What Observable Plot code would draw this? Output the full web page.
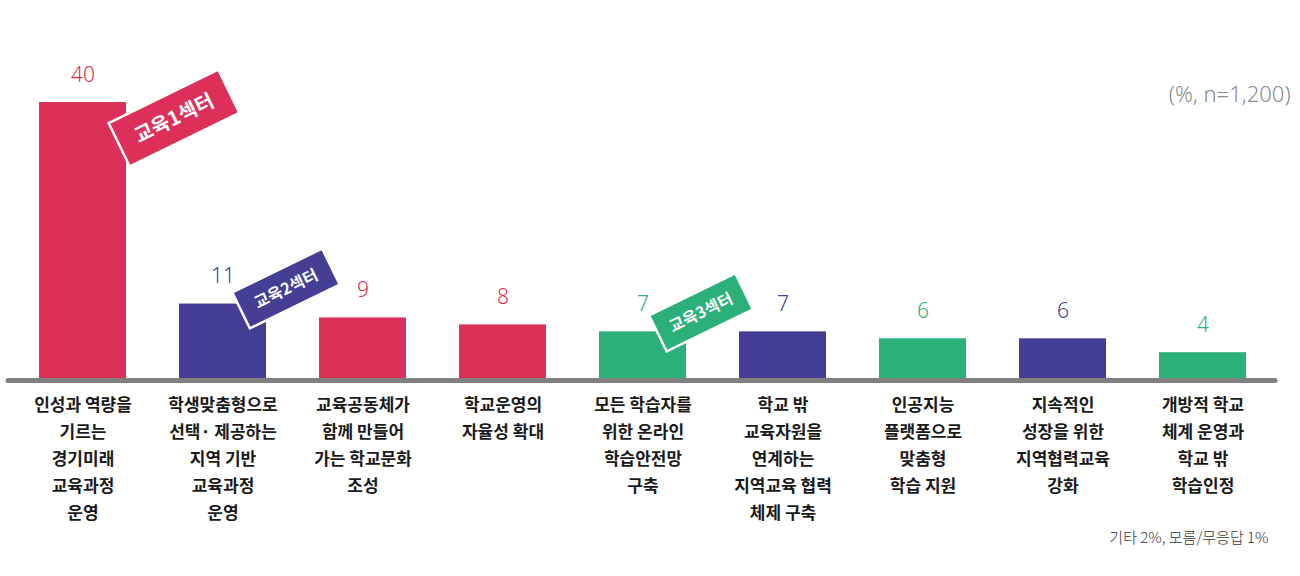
<!DOCTYPE html>
<html><head><meta charset="utf-8">
<script src="https://cdn.jsdelivr.net/npm/d3@7"></script>
<script src="https://cdn.jsdelivr.net/npm/@observablehq/plot@0.6"></script>
<style>body{margin:0;background:#fff;} #chart{width:1300px;height:576px;}</style>
</head><body><div id="chart"></div>
<script>
const categories = [
  "인성과 역량을\n기르는\n경기미래\n교육과정\n운영",
  "학생맞춤형으로\n선택· 제공하는\n지역 기반\n교육과정\n운영",
  "교육공동체가\n함께 만들어\n가는 학교문화\n조성",
  "학교운영의\n자율성 확대",
  "모든 학습자를\n위한 온라인\n학습안전망\n구축",
  "학교 밖\n교육자원을\n연계하는\n지역교육 협력\n체제 구축",
  "인공지능\n플랫폼으로\n맞춤형\n학습 지원",
  "지속적인\n성장을 위한\n지역협력교육\n강화",
  "개방적 학교\n체계 운영과\n학교 밖\n학습인정"
];
const values = [40, 11, 9, 8, 7, 7, 6, 6, 4];
const sectors = ["교육1섹터", "교육2섹터", "교육1섹터", "교육1섹터", "교육3섹터", "교육2섹터", "교육3섹터", "교육2섹터", "교육3섹터"];
const sectorNames = ["교육1섹터", "교육2섹터", "교육3섹터"];
const sectorColors = ["#dc3058", "#443e95", "#2bb07a"];
const badgeCategories = [0, 1, 4]; // index of the bar each sector badge sits on
const unitNote = "(%, n=1,200)";
const footNote = "기타 2%, 모름/무응답 1%";

const data = categories.map((c, i) => ({cat: c, value: values[i], sector: sectors[i]}));
const colorOf = s => sectorColors[sectorNames.indexOf(s)];

const plot = Plot.plot({
  width: 1300, height: 576,
  marginLeft: 8, marginRight: 25, marginTop: 102, marginBottom: 196,
  x: {domain: categories, paddingInner: 0.38, paddingOuter: 0.19, insetLeft: 4, insetRight: 3, axis: null},
  y: {domain: [0, 40], axis: null},
  style: {fontFamily: "'Noto Sans CJK KR', 'Noto Sans', sans-serif", background: "#fff"},
  marks: [
    Plot.barY(data, {x: "cat", y: "value", fill: d => colorOf(d.sector)}),
    Plot.ruleY([0], {stroke: "#808080", strokeWidth: 5, strokeLinecap: "round"}),
    Plot.text(data, {x: "cat", y: "value", text: d => String(d.value), fill: d => colorOf(d.sector),
      lineAnchor: "bottom", dy: -21, fontSize: 21, fontWeight: 300, fontFamily: "'Noto Sans', sans-serif"}),
    Plot.text(data, {x: "cat", y: 0, text: "cat", lineAnchor: "top", dy: 11, fontSize: 17,
      lineHeight: 1.59, fill: "#1a1a1a", fontWeight: 600}),
    Plot.text([unitNote], {frameAnchor: "top-right", text: d => d, dx: 15, dy: -16, fontSize: 22,
      fill: "#8a8a8a", fontWeight: 300, fontFamily: "'Noto Sans', sans-serif", textAnchor: "end"}),
    Plot.text([footNote], {frameAnchor: "bottom-right", text: d => d, dx: -7, dy: 162, fontSize: 15,
      fill: "#333", textAnchor: "end", fontWeight: 300, fontFamily: "'Noto Sans CJK KR', sans-serif"})
  ]
});

// sector badges placed through the plot's scales
const xs = plot.scale("x"), ys = plot.scale("y");
const badgeStyle = [
  {dx: 48, dy: 16, w: 122, h: 48, fs: 20},
  {dx: 20, dy: -15, w: 100, h: 40, fs: 16},
  {dx: 15, dy: -19, w: 96, h: 40, fs: 16}
];
const svg = d3.select(plot);
sectorNames.forEach((s, k) => {
  const i = badgeCategories[k];
  const st = badgeStyle[k];
  const right = xs.apply(categories[i]) + xs.bandwidth;
  const top = ys.apply(values[i]);
  const cx = right + st.dx, cy = top + st.dy;
  const g = svg.append("g").attr("transform", `translate(${cx},${cy}) rotate(-26)`);
  g.append("rect").attr("x", -st.w/2).attr("y", -st.h/2).attr("width", st.w).attr("height", st.h)
    .attr("fill", sectorColors[k]).attr("stroke", "#fff").attr("stroke-width", 2.5);
  g.append("text").attr("text-anchor", "middle").attr("dy", "0.36em")
    .attr("fill", "#fff").attr("font-size", st.fs).attr("font-weight", 700)
    .attr("font-family", "'Noto Sans CJK KR', sans-serif").text(s);
});

document.getElementById("chart").appendChild(plot);
</script></body></html>
